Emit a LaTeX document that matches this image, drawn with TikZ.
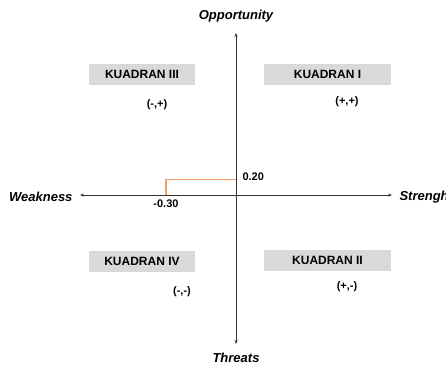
\documentclass[tikz,border=0pt]{standalone}
\usepackage{fontspec}
\setmainfont{Liberation Sans}
\usetikzlibrary{arrows.meta}
\definecolor{boxgray}{RGB}{217,217,217}
\definecolor{lineorange}{RGB}{240,160,100}
\tikzset{
  kuadran/.style={fill=boxgray, minimum width=106pt, minimum height=21pt, inner sep=0pt, font=\fontsize{12}{14}\selectfont\bfseries},
  sign/.style={font=\fontsize{11}{13}\selectfont\bfseries},
  axislabel/.style={font=\fontsize{13}{15}\selectfont\bfseries\itshape},
  axis/.style={black!80, line width=0.8pt, {Stealth[length=4pt,width=3pt]}-{Stealth[length=4pt,width=3pt]}}
}
\begin{document}
\begin{tikzpicture}[x=1pt,y=-1pt]
\useasboundingbox (0,0) rectangle (446,367);
\coordinate (T) at (236,33);
\coordinate (B) at (236,344);
\coordinate (L) at (80,195);
\coordinate (R) at (392,195);
\coordinate (O) at (236,179.5);
\coordinate (W) at (166,179.5);
\coordinate (Wx) at (166,195);
%axes
\draw[axis] (L) -- (R);
\draw[axis] (T) -- (B);
\draw[lineorange, line width=1.1pt] (O) -- (W) -- (Wx);
\node[axislabel] (opp) at (236,16) {Opportunity};
\node[axislabel] (thr) at (236,358) {Threats};
\node[axislabel, anchor=east] (weak) at (76,197) {Weakness};
\node[axislabel, anchor=west] (str) at (396,197) {Strenght};
\node[sign, anchor=west] (y) at (239,177) {0.20};
\node[sign] (x) at (166,204) {-0.30};
%quadrants
\node[kuadran] (k3) at (142,74) {KUADRAN III};
\node[kuadran, minimum width=127pt] (k1) at (327.5,74) {KUADRAN I};
\node[kuadran] (k4) at (142,261.5) {KUADRAN IV};
\node[kuadran, minimum width=127pt] (k2) at (327.5,260) {KUADRAN II};
\node[sign] (s3) at (157,105) {(-,+)};
\node[sign] (s1) at (347,102) {(+,+)};
\node[sign] (s4) at (182,292) {(-,-)};
\node[sign] (s2) at (347,287) {(+,-)};
\end{tikzpicture}
\end{document}
